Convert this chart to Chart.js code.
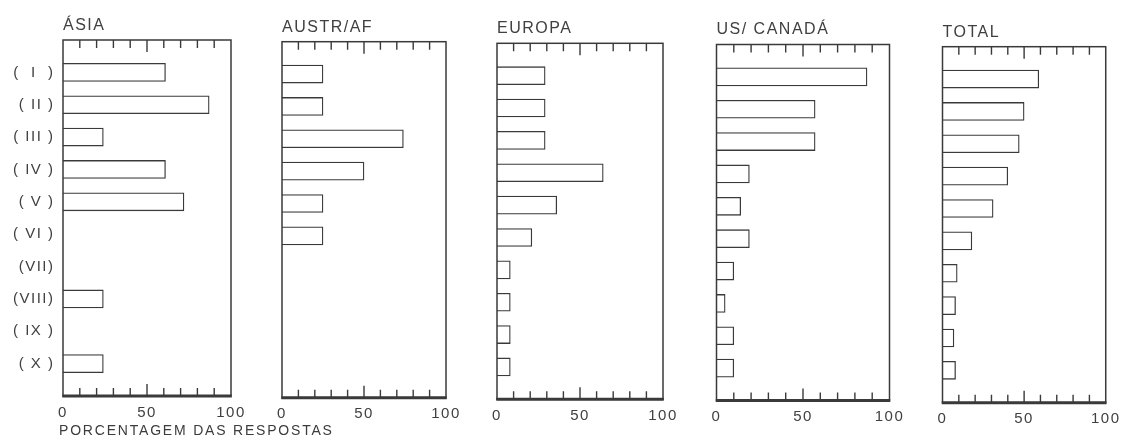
<!DOCTYPE html>
<html>
<head>
<meta charset="utf-8">
<script src="https://cdn.jsdelivr.net/npm/chart.js@4.4.1/dist/chart.umd.min.js"></script>
<style>
  html, body { margin: 0; padding: 0; background: #fff; width: 1128px; height: 444px; overflow: hidden; }
  #wrap { position: relative; width: 1128px; height: 444px; }
  canvas.panel { position: absolute; top: 0; }
  #caption { position: absolute; left: 59px; top: 422px; font: 14px "Liberation Sans", Arial, sans-serif;
             letter-spacing: 1.8px; color: #3c3c3c; white-space: nowrap; line-height: 16px; }
</style>
</head>
<body>
<div id="wrap"></div>
<script>
// ---------- data ----------
const categories = ['(  I  )', '( II )', '( III )', '( IV )', '( V )', '( VI )', '(VII)', '(VIII)', '( IX )', '( X )'];
const panelTitles = ['ÁSIA', 'AUSTR/AF', 'EUROPA', 'US/ CANADÁ', 'TOTAL'];
const asia     = [61, 87, 24, 61, 72, 0, 0, 24, 0, 24];
const austrAf  = [25, 25, 74, 50, 25, 25, 0, 0, 0, 0];
const europa   = [29, 29, 29, 64, 36, 21, 8, 8, 8, 8];
const usCanada = [87, 57, 57, 19, 14, 19, 10, 5, 10, 10];
const total    = [59, 50, 47, 40, 31, 18, 9, 8, 7, 8];
const xLabeledValues = [0, 50, 100];
const xTickLabels = ['0', '50', '100'];
const xAxisTitle = 'PORCENTAGEM DAS RESPOSTAS';

// ---------- layout (page pixels of each plot frame) ----------
const frames = [
  { L: 63,    R: 231,    T: 40,   B: 396   },
  { L: 282,   R: 446,    T: 41.7, B: 397.7 },
  { L: 497,   R: 663,    T: 43.3, B: 399.3 },
  { L: 716.5, R: 889.5,  T: 44.5, B: 400.5 },
  { L: 942.5, R: 1111,   T: 46.7, B: 402.7 }
];
const H = 444;
const INK = '#3a3a3a';
const TEXT = '#404040';
const FONT = '"Liberation Sans", Arial, sans-serif';

Chart.defaults.font.family = FONT;
Chart.defaults.color = TEXT;

const spacing = {
  id: 'spacing',
  beforeUpdate(chart) { chart.ctx.letterSpacing = '1.5px'; },
  beforeLayout(chart) { chart.ctx.letterSpacing = '1.5px'; },
  beforeDraw(chart) { chart.ctx.letterSpacing = '1.5px'; }
};

const frame = {
  id: 'frame',
  afterDatasetsDraw(chart) {
    const { ctx, chartArea: a, scales: { x } } = chart;
    ctx.save();
    ctx.strokeStyle = INK;
    ctx.lineWidth = 1.5;
    ctx.strokeRect(a.left, a.top, a.right - a.left, a.bottom - a.top);
    ctx.lineWidth = 3;
    ctx.beginPath();
    ctx.moveTo(a.left - 0.75, a.bottom);
    ctx.lineTo(a.right + 0.75, a.bottom);
    ctx.stroke();
    ctx.lineWidth = 1.4;
    x.ticks.forEach(t => {
      if (t.value <= x.min || t.value >= x.max) return;
      const px = x.getPixelForValue(t.value);
      const len = t.value % 50 === 0 ? 12 : 8;
      ctx.beginPath();
      ctx.moveTo(px, a.top);
      ctx.lineTo(px, a.top + len);
      ctx.moveTo(px, a.bottom);
      ctx.lineTo(px, a.bottom - len);
      ctx.stroke();
    });
    ctx.restore();
  }
};

const wrap = document.getElementById('wrap');
const series = [asia, austrAf, europa, usCanada, total];
const paddedLabels = [''].concat(categories, ['']);

series.forEach((values, i) => {
  const f = frames[i];
  const first = i === 0;
  const canvasLeft = first ? 0 : Math.round(f.L - 20);
  const canvasRight = Math.min(1128, Math.round(f.R + 30));
  const cv = document.createElement('canvas');
  cv.className = 'panel';
  cv.width = canvasRight - canvasLeft;
  cv.height = H;
  cv.style.left = canvasLeft + 'px';
  wrap.appendChild(cv);

  const titleSize = 16, titleLine = titleSize * 1.2;
  const titleMid = f.T - 14.5;
  const data = [null].concat(values.map(v => (v ? v : null)), [null]);

  new Chart(cv, {
    type: 'bar',
    data: {
      labels: paddedLabels,
      datasets: [{
        data,
        backgroundColor: '#ffffff',
        borderColor: INK,
        borderWidth: 1.3,
        barThickness: 18
      }]
    },
    plugins: [spacing, frame],
    options: {
      indexAxis: 'y',
      responsive: false,
      animation: false,
      events: [],
      layout: {
        padding: {
          left: first ? 0 : f.L - canvasLeft,
          right: canvasRight - f.R,
          top: 0,
          bottom: 0
        }
      },
      plugins: {
        legend: { display: false },
        tooltip: { enabled: false },
        title: {
          display: true,
          text: panelTitles[i],
          align: 'start',
          fullSize: false,
          color: TEXT,
          font: { size: titleSize, weight: 'normal', family: FONT },
          padding: { top: titleMid - titleLine / 2, bottom: f.T - titleMid - titleLine / 2 }
        }
      },
      scales: {
        x: {
          type: 'linear',
          min: 0,
          max: 100,
          grid: { display: false, drawTicks: false },
          border: { display: false },
          ticks: {
            stepSize: 10,
            autoSkip: false,
            maxRotation: 0,
            padding: 7.5,
            color: TEXT,
            font: { size: 15 },
            callback: v => {
              const k = xLabeledValues.indexOf(v);
              return k >= 0 ? xTickLabels[k] : '';
            }
          },
          afterFit: s => { s.height = H - f.B; }
        },
        y: {
          type: 'category',
          display: first,
          offset: false,
          grid: { display: false, drawTicks: false },
          border: { display: false },
          ticks: {
            autoSkip: false,
            crossAlign: 'near',
            padding: 8.5,
            color: TEXT,
            font: { size: 15 }
          },
          afterFit: s => { s.width = first ? f.L - canvasLeft : 0; }
        }
      }
    }
  });
});

const cap = document.createElement('div');
cap.id = 'caption';
cap.textContent = xAxisTitle;
wrap.appendChild(cap);
</script>
</body>
</html>
